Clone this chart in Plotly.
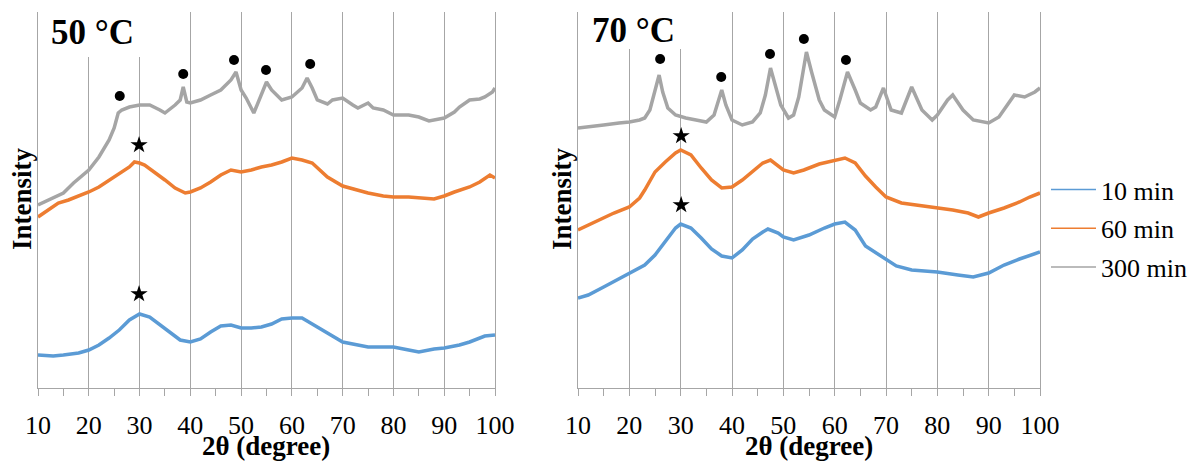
import plotly.graph_objects as go

# ---------------- data (intensity, arbitrary offset units) ----------------
series_names = ["10 min", "60 min", "300 min"]
colors = ["#5B9BD5", "#ED7D31", "#A5A5A5"]

# 50 °C panel
x50_10 = [10, 13, 15, 18, 20, 22, 24, 26, 28, 30, 32, 34, 36, 38, 40, 42, 44, 46, 48, 50, 52, 54, 56, 58, 60,
          62, 64, 66, 68, 70, 73, 75, 78, 80, 83, 85, 88, 90, 93, 95, 98, 100]
y50_10 = [33, 32, 33, 35, 38, 43, 50, 58, 68, 74, 71, 63, 55, 48, 46, 49, 56, 62, 63, 60, 60, 61, 64, 69, 70,
          70, 64, 58, 51, 46, 43, 41, 41, 41, 38, 36, 39, 40, 43, 46, 52, 53]

x50_60 = [10, 12, 14, 16, 18, 20, 22, 24, 26, 28, 29, 30, 31, 33, 35, 37, 39, 40, 42, 44, 46, 48, 50, 52, 54,
          56, 58, 60, 62, 64, 65, 67, 70, 73, 75, 78, 80, 83, 85, 88, 90, 92, 95, 97, 99, 100]
y50_60 = [171, 178, 185, 188, 192, 196, 201, 208, 214, 221, 226, 225, 223, 216, 208, 200, 195, 196, 200, 206,
          213, 218, 216, 218, 221, 223, 226, 230, 228, 225, 220, 211, 202, 198, 195, 192, 191, 191, 190, 189,
          192, 196, 201, 206, 213, 210]

x50_300 = [10, 12, 14, 15, 17, 20, 22, 24, 25, 25.8, 26.5, 28, 30, 32, 34, 35, 37, 38, 38.6, 39.3, 40, 42, 44,
           46, 48, 49, 50, 51, 52.5, 53.5, 55, 56, 58, 60, 62, 63, 64, 65, 67, 68, 70, 72, 73, 75, 76, 78, 80,
           83, 85, 87, 90, 92, 93, 95, 97, 98, 99.5, 100]
y50_300 = [183, 188, 193, 195, 205, 218, 231, 248, 260, 275, 278, 281, 283, 283, 278, 275, 283, 288, 301, 286,
           285, 288, 293, 298, 308, 316, 298, 290, 275, 288, 306, 298, 288, 291, 300, 310, 300, 288, 284, 288,
           290, 283, 280, 285, 280, 278, 273, 273, 271, 267, 270, 276, 281, 288, 289, 291, 296, 300]

# 70 °C panel
x70_10 = [10, 12, 15, 18, 20, 23, 25, 27, 29, 30, 32, 34, 36, 38, 40, 42, 44, 46, 47, 49, 50, 52, 55, 58, 60,
          62, 64, 66, 68, 70, 72, 75, 80, 84, 87, 90, 93, 96, 100]
y70_10 = [90, 93, 101, 109, 115, 123, 133, 147, 160, 164, 160, 150, 139, 132, 130, 138, 149, 156, 159, 155,
          151, 148, 153, 160, 164, 166, 158, 142, 135, 128, 122, 118, 116, 113, 111, 115, 123, 129, 136]

x70_60 = [10, 12, 14, 17, 20, 22, 23, 25, 27, 29, 30, 32, 34, 36, 38, 40, 42, 44, 46, 47.5, 49, 50, 52, 54,
          57, 60, 62, 64, 66, 68, 70, 73, 76, 80, 83, 86, 88, 90, 93, 96, 98, 100]
y70_60 = [158, 163, 168, 175, 181, 190, 198, 216, 226, 235, 238, 233, 220, 208, 200, 201, 208, 216, 225, 228,
          222, 218, 215, 218, 224, 228, 230, 225, 212, 201, 191, 185, 183, 180, 178, 175, 171, 175, 180, 186,
          191, 195]

x70_300 = [10, 12, 15, 18, 20, 22, 23, 24, 25, 25.8, 26.5, 27.5, 29, 31, 33, 35, 36.5, 37.3, 38, 38.8, 40, 42,
           44, 45.5, 46.5, 47.5, 48.5, 49.5, 51, 52, 53, 54.5, 55.5, 57, 58, 60, 61, 62.5, 64, 65, 67, 68, 69.5,
           71, 73, 75, 77, 79, 80, 82, 83, 85, 87, 90, 92, 94, 95, 97, 99, 100]
y70_300 = [260, 261, 263, 265, 266, 268, 270, 278, 298, 313, 296, 280, 273, 270, 268, 266, 273, 288, 298, 283,
           268, 263, 266, 275, 293, 320, 300, 283, 270, 273, 291, 336, 316, 288, 278, 271, 288, 316, 298, 285,
           278, 281, 300, 278, 275, 301, 278, 268, 273, 288, 293, 278, 268, 265, 271, 285, 293, 291, 296, 300]

# peak markers
dot50_x = [26.1, 38.6, 48.6, 54.9, 63.6]
dot50_y = [292, 314, 328, 318, 324]
star50_x = [29.9, 29.9]
star50_y = [243, 94]
dot70_x = [26.0, 37.9, 47.4, 54.0, 62.2]
dot70_y = [329, 311, 334, 349, 328]
star70_x = [30.1, 30.1]
star70_y = [252, 183]

panel_titles = ["50 °C", "70 °C"]
x_ticks = [10, 20, 30, 40, 50, 60, 70, 80, 90, 100]

# ---------------- figure ----------------
FONT = "Liberation Serif, Times New Roman, serif"
GRID = "#A6A6A6"
fig = go.Figure()

panels = [
    ("x", "y", [(x50_10, y50_10), (x50_60, y50_60), (x50_300, y50_300)], (dot50_x, dot50_y), (star50_x, star50_y)),
    ("x2", "y2", [(x70_10, y70_10), (x70_60, y70_60), (x70_300, y70_300)], (dot70_x, dot70_y), (star70_x, star70_y)),
]

for xa, ya, curves, dots, stars in panels:
    for (xs, ys), name, col in zip(curves, series_names, colors):
        fig.add_trace(go.Scatter(x=xs, y=ys, mode="lines", xaxis=xa, yaxis=ya, name=name,
                                 line=dict(color=col, width=3.5), showlegend=False, hoverinfo="skip"))
    fig.add_trace(go.Scatter(x=dots[0], y=dots[1], mode="markers", xaxis=xa, yaxis=ya, showlegend=False,
                             marker=dict(symbol="circle", size=10, color="black")))
    fig.add_trace(go.Scatter(x=stars[0], y=stars[1], mode="markers", xaxis=xa, yaxis=ya, showlegend=False,
                             marker=dict(symbol="star", size=13, color="black")))

# legend-only entries (thin lines)
for name, col in zip(series_names, colors):
    fig.add_trace(go.Scatter(x=[None], y=[None], mode="lines", name=name, legendgroup=name,
                             line=dict(color=col, width=1.5), showlegend=True))

# page body has an 8 px margin: work in screen pixels of the reference
OFF = 8
W, H = 1184, 454
def px(v):
    return (v - OFF) / W
def py(v):
    return 1 - (v - OFF) / H

axis_common = dict(range=[10, 100], tickvals=x_ticks, showgrid=True, gridcolor=GRID, gridwidth=1.3,
                   showline=True, linecolor=GRID, linewidth=1.3, zeroline=False,
                   ticks="outside", ticklen=7, tickcolor=GRID, tickwidth=1.3, ticklabelstandoff=7,
                   minor=dict(dtick=5, tick0=10, ticks="outside", ticklen=7, tickcolor=GRID, tickwidth=1.3,
                              showgrid=False),
                   tickfont=dict(family=FONT, size=26, color="black"), fixedrange=True, automargin=False)
yaxis_common = dict(range=[0, 376], showticklabels=False, showgrid=False, zeroline=False, ticks="",
                    showline=True, mirror=True, linecolor=GRID, linewidth=1.3,
                    domain=[py(388), py(12)], fixedrange=True, automargin=False)

def label(text, x, y, size, angle=0):
    return dict(text=text, x=px(x), y=py(y), xref="paper", yref="paper", xanchor="center", yanchor="middle",
                showarrow=False, textangle=angle, font=dict(family=FONT, size=size, color="black"), borderpad=0)

def cover(x0, x1, y0, y1):
    # white box behind each panel title (hides the gridlines there)
    return dict(type="rect", xref="paper", yref="paper", x0=px(x0), x1=px(x1), y0=py(y1), y1=py(y0),
                fillcolor="white", line=dict(width=0), layer="above")

fig.update_layout(
    width=W, height=H,
    margin=dict(l=0, r=0, t=0, b=0, pad=0),
    paper_bgcolor="white", plot_bgcolor="white",
    xaxis=dict(domain=[px(38), px(495)], anchor="y", **axis_common),
    xaxis2=dict(domain=[px(578), px(1040)], anchor="y2", **axis_common),
    yaxis=dict(anchor="x", **yaxis_common),
    yaxis2=dict(anchor="x2", **yaxis_common),
    legend=dict(x=1, y=py(166), xanchor="right", yanchor="top",
                font=dict(family=FONT, size=26, color="black"),
                tracegroupgap=2, bgcolor="rgba(0,0,0,0)", itemwidth=45),
    font=dict(family=FONT, color="black"),
    shapes=[cover(40, 146, 12, 57), cover(580, 688, 12, 49)],
    annotations=[
        label("<b>" + panel_titles[0] + "</b>", 92, 33, 35),
        label("<b>" + panel_titles[1] + "</b>", 633, 31, 35),
        label("<b>2θ (degree)</b>", 266, 446, 27),
        label("<b>2θ (degree)</b>", 809, 446, 27),
        label("<b>Intensity</b>", 22, 199, 27, angle=-90),
        label("<b>Intensity</b>", 562, 199, 27, angle=-90),
    ],
)

fig.write_html("out.html")
